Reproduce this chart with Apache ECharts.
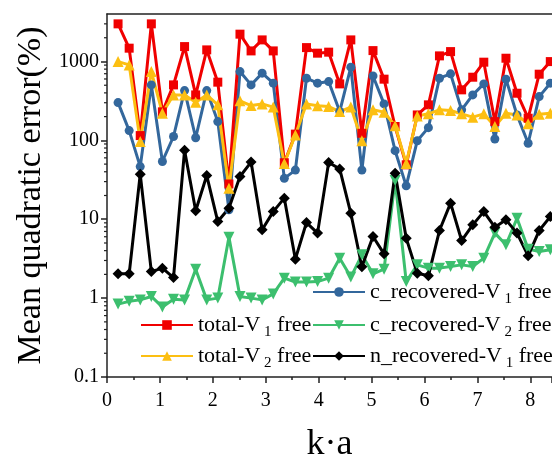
<!DOCTYPE html>
<html>
<head>
<meta charset="utf-8">
<script src="https://cdn.jsdelivr.net/npm/echarts@6/dist/echarts.min.js"></script>
<style>
  html, body { margin: 0; padding: 0; background: #fff; }
  #chart { width: 552px; height: 455px; }
</style>
</head>
<body>
<div id="chart"></div>
<script>
// k·a sample positions
const ka = [0.209, 0.419, 0.628, 0.838, 1.047, 1.257, 1.466, 1.676, 1.885, 2.094,
  2.304, 2.513, 2.723, 2.932, 3.142, 3.351, 3.560, 3.770, 3.979, 4.189,
  4.398, 4.608, 4.817, 5.027, 5.236, 5.445, 5.655, 5.864, 6.074, 6.283,
  6.493, 6.702, 6.912, 7.121, 7.330, 7.540, 7.749, 7.959, 8.168, 8.378];

// mean quadratic error (%)
const cRecV1 = [301, 133, 46.5, 505, 54, 112, 428, 108, 428, 173, 13.2, 745, 505,
  711, 531, 33, 42, 614, 531, 556, 232, 847, 42, 656, 290, 74, 26.5,
  99, 145, 614, 697, 244, 377, 520, 104, 597, 210, 92, 359, 531];
const totalV1 = [3000, 1475, 115, 3000, 230, 505, 1545, 377, 1403, 547, 28, 2220, 1362,
  1878, 1362, 52, 120, 1500, 1275, 1313, 520, 1878, 123, 1374, 597, 150, 49,
  210, 282, 1178, 1335, 437, 632, 980, 173, 1100, 396, 191, 690, 997];
const cRecV2 = [0.84, 0.91, 0.95, 1.05, 0.77, 0.97, 0.95, 2.33, 0.95, 1.0, 5.93, 1.05, 1.0,
  0.95, 1.13, 1.79, 1.6, 1.6, 1.62, 1.79, 3.21, 1.85, 3.54, 2.03, 2.33, 31, 1.62,
  2.64, 2.4, 2.4, 2.52, 2.64, 2.52, 3.21, 6.67, 4.74, 10.3, 4.18, 3.9, 4.1];
const totalV2 = [997, 905, 97, 745, 221, 377, 377, 305, 377, 282, 24.8, 317, 276,
  290, 264, 51, 117, 290, 274, 268, 232, 264, 99, 244, 228, 153, 51,
  204, 217, 244, 239, 217, 197, 217, 150, 221, 210, 162, 215, 221];
const nRecV1 = [2.03, 2.03, 37.3, 2.17, 2.4, 1.82, 75, 12.8, 35.8, 9.35, 13.8, 34.8, 53,
  7.34, 12.5, 18.5, 3.12, 9.08, 6.67, 52.3, 43.5, 11.9, 2.5, 6.04, 3.64, 38.4, 5.76,
  2.07, 1.92, 7.19, 16, 5.37, 8.49, 12.5, 7.94, 9.82, 6.67, 3.44, 7.19, 10.8];

// log minor ticks on the y axis (2..9 per decade)
const yMinor = [];
for (let e = -1; e <= 3; e++) {
  for (let m = 2; m <= 9; m++) {
    const v = m * Math.pow(10, e);
    if (v < 4000) yMinor.push(v);
  }
}

const FONT = 'Liberation Serif';
const AXIS = '#222';

const pairs = (ys) => ys.map((y, i) => [ka[i], y]);

const mkSeries = (name, ys, color, symbol, size) => ({
  name: name,
  type: 'line',
  data: pairs(ys),
  symbol: symbol,
  symbolSize: size,
  lineStyle: { color: color, width: 3 },
  itemStyle: { color: color },
  emphasis: { disabled: true },
  animation: false
});

const rich = {
  t: { fontFamily: FONT, fontSize: 22, color: '#000' },
  s: { fontFamily: FONT, fontSize: 15, color: '#000', padding: [15, 0, 0, 0] }
};
const legendLabel = (name) => {
  const m = name.match(/^(.*-V)(\d)( free)$/);
  return '{t|' + m[1] + '}{s| ' + m[2] + '}{t|' + m[3] + '}';
};
const mkLegend = (name, left, top) => ({
  data: [name],
  left: left,
  top: top,
  padding: 0,
  itemWidth: 52,
  itemHeight: 12,
  itemGap: 0,
  selectedMode: false,
  formatter: legendLabel,
  textStyle: { rich: rich }
});

const chart = echarts.init(document.getElementById('chart'));
chart.setOption({
  backgroundColor: '#fff',
  animation: false,
  grid: { left: 107, right: 0, top: 14, bottom: 78, outerBoundsMode: 'none', containLabel: false },
  legend: [
    mkLegend('c_recovered-V1 free', 312, 281),
    mkLegend('total-V1 free', 140, 314),
    mkLegend('c_recovered-V2 free', 312, 314),
    mkLegend('total-V2 free', 140, 345),
    mkLegend('n_recovered-V1 free', 312, 345)
  ],
  xAxis: [{
    type: 'value',
    min: 0,
    max: 8.41,
    interval: 1,
    name: 'k·a',
    nameLocation: 'middle',
    nameGap: 50,
    nameTextStyle: { fontFamily: FONT, fontSize: 36, color: '#000' },
    axisLine: { lineStyle: { color: AXIS, width: 1.5 } },
    axisTick: { length: 6, lineStyle: { color: AXIS, width: 1.5 } },
    minorTick: { show: true, splitNumber: 2, length: 3, lineStyle: { color: AXIS, width: 1.5 } },
    axisLabel: { fontFamily: FONT, fontSize: 20, color: '#000', margin: 14, showMaxLabel: false },
    splitLine: { show: false }
  }, {
    type: 'value',
    position: 'top',
    min: 0,
    max: 8.41,
    axisLine: { show: true, onZero: false, lineStyle: { color: AXIS, width: 1.5 } },
    axisTick: { show: false },
    axisLabel: { show: false },
    splitLine: { show: false }
  }],
  yAxis: {
    type: 'log',
    logBase: 10,
    min: 0.1,
    max: 4000,
    name: 'Mean quadratic error(%)',
    nameLocation: 'middle',
    nameGap: 58,
    nameTextStyle: { fontFamily: FONT, fontSize: 34, color: '#000' },
    axisLine: { show: true, lineStyle: { color: AXIS, width: 1.5 } },
    axisTick: { length: 6, lineStyle: { color: AXIS, width: 1.5 } },
    axisLabel: {
      fontFamily: FONT, fontSize: 20, color: '#000', margin: 8, showMaxLabel: false,
      formatter: (v) => String(v)
    },
    splitLine: { show: false }
  },
  series: [
    {
      type: 'custom',
      silent: true,
      clip: false,
      data: yMinor.map(v => [0, v]),
      renderItem: function (params, api) {
        const p = api.coord([0, api.value(1)]);
        return {
          type: 'line',
          shape: { x1: p[0] - 3, y1: p[1], x2: p[0], y2: p[1] },
          style: { stroke: AXIS, lineWidth: 1.2 }
        };
      }
    },
    mkSeries('c_recovered-V1 free', cRecV1, '#33679c', 'circle', 9),
    mkSeries('total-V1 free', totalV1, '#f00000', 'rect', 9),
    mkSeries('c_recovered-V2 free', cRecV2, '#3cbf6e', 'path://M0,0L10,0L5,9Z', 11),
    mkSeries('total-V2 free', totalV2, '#fcbf12', 'triangle', 11),
    mkSeries('n_recovered-V1 free', nRecV1, '#000000', 'diamond', 11)
  ]
});
</script>
</body>
</html>
